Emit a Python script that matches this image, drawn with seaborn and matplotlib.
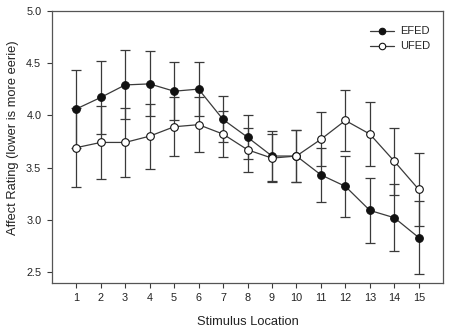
import matplotlib
matplotlib.use('Agg')
import matplotlib.pyplot as plt
import pandas as pd
import seaborn as sns

# values
locations = list(range(1, 16))
efed_mean = [4.06, 4.17, 4.29, 4.30, 4.23, 4.25, 3.96, 3.79, 3.61, 3.61, 3.43, 3.32, 3.09, 3.02, 2.83]
efed_sem = [0.37, 0.35, 0.33, 0.31, 0.28, 0.26, 0.22, 0.21, 0.24, 0.25, 0.26, 0.29, 0.31, 0.32, 0.35]
ufed_mean = [3.69, 3.74, 3.74, 3.80, 3.89, 3.91, 3.82, 3.67, 3.59, 3.61, 3.77, 3.95, 3.82, 3.56, 3.29]
ufed_sem = [0.38, 0.35, 0.33, 0.31, 0.28, 0.26, 0.22, 0.21, 0.23, 0.25, 0.26, 0.29, 0.31, 0.32, 0.35]

df = pd.DataFrame({
    'Location': locations * 2,
    'Rating': efed_mean + ufed_mean,
    'SEM': efed_sem + ufed_sem,
    'Group': ['EFED'] * 15 + ['UFED'] * 15,
})

sns.set_style('ticks')
plt.rcParams['font.family'] = ['Liberation Sans', 'DejaVu Sans']

fig = plt.figure(figsize=(4.5, 3.34), dpi=100)
ax = fig.add_axes([0.115, 0.154, 0.870, 0.814])

dark = '#3a3a3a'
face = {'EFED': '#111111', 'UFED': 'white'}

# error bars first so markers sit on top
for grp in ['EFED', 'UFED']:
    sub = df[df['Group'] == grp]
    ax.errorbar(sub['Location'], sub['Rating'], yerr=sub['SEM'], fmt='none',
                ecolor=dark, elinewidth=0.9, capsize=3.5, capthick=0.9, zorder=2)

for grp in ['EFED', 'UFED']:
    sub = df[df['Group'] == grp]
    sns.lineplot(data=sub, x='Location', y='Rating', ax=ax, color=dark, linewidth=0.9,
                 marker='o', markersize=5.5, markerfacecolor=face[grp],
                 markeredgecolor='#111111', markeredgewidth=0.8, label=grp, zorder=3)

ax.set_xlim(0, 16)
ax.set_ylim(2.4, 5.0)
ax.set_xticks(locations)
ax.set_yticks([2.5, 3.0, 3.5, 4.0, 4.5, 5.0])
ax.set_yticklabels(['2.5', '3.0', '3.5', '4.0', '4.5', '5.0'])
ax.tick_params(axis='both', direction='out', length=3.5, width=0.8, color=dark,
               labelsize=7.8, labelcolor='#222222', pad=4)
for s in ax.spines.values():
    s.set_color('#555555')
    s.set_linewidth(0.9)

ax.set_xlabel('Stimulus Location', fontsize=9.3, color='#222222')
ax.set_ylabel('Affect Rating (lower is more eerie)', fontsize=9.3, color='#222222')
ax.xaxis.set_label_coords(0.5, -0.124)
ax.yaxis.set_label_coords(-0.083, 0.533)

leg = ax.legend(loc='upper right', bbox_to_anchor=(1.0, 0.991), frameon=False,
                fontsize=8, handlelength=2.2, handletextpad=0.5, borderaxespad=0.8,
                labelspacing=0.45, markerscale=0.85)

fig.savefig('out.png', dpi=100)
